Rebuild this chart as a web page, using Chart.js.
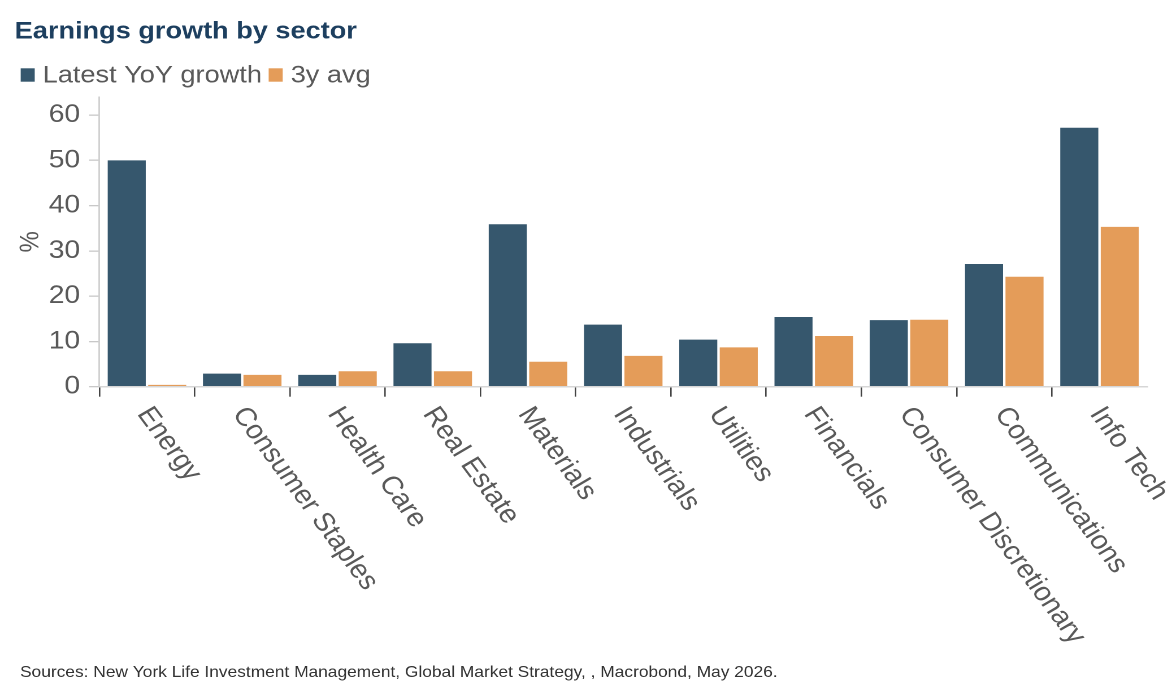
<!DOCTYPE html>
<html>
<head>
<meta charset="utf-8">
<style>
  html, body { margin: 0; padding: 0; background: #ffffff; }
</style>
<script src="https://cdn.jsdelivr.net/npm/chart.js@4.4.1/dist/chart.umd.min.js"></script>
</head>
<body>
<canvas id="c" width="1037" height="699" style="display:block;width:1172px;height:699px;"></canvas>
<script>
// ---- data ----
const categories = ['Energy', 'Consumer Staples', 'Health Care', 'Real Estate', 'Materials', 'Industrials', 'Utilities', 'Financials', 'Consumer Discretionary', 'Communications', 'Info Tech'];
const latestYoY = [50.0, 2.9, 2.6, 9.6, 35.9, 13.7, 10.4, 15.4, 14.7, 27.1, 57.2];
const avg3y = [0.4, 2.6, 3.4, 3.4, 5.5, 6.8, 8.7, 11.2, 14.8, 24.3, 35.3];
const seriesNames = ['Latest YoY growth', '3y avg'];
const yTickValues = [0, 10, 20, 30, 40, 50, 60];
const titleText = 'Earnings growth by sector';
const yAxisTitle = '%';
const sourceText = 'Sources: New York Life Investment Management, Global Market Strategy, , Macrobond, May 2026.';

// ---- styling ----
const FONT = "'Liberation Sans', Arial, Helvetica, sans-serif";
const BLUE = '#36576d';
const ORANGE = '#e49c59';
const TEXT_GREY = '#595959';
Chart.defaults.font.family = FONT;

const decor = {
  id: 'decor',
  afterDraw(chart) {
    const ctx = chart.ctx;
    const area = chart.chartArea;
    ctx.save();
    // legend
    ctx.font = '24px ' + FONT;
    ctx.textBaseline = 'alphabetic';
    ctx.textAlign = 'left';
    let x = 18.3;
    chart.data.datasets.forEach((ds) => {
      ctx.fillStyle = ds.backgroundColor;
      ctx.fillRect(x, 68.3, 12.4, 13.4);
      ctx.fillStyle = TEXT_GREY;
      const tx = x + 19.5;
      ctx.fillText(ds.label, tx, 82.5);
      x = tx + ctx.measureText(ds.label).width + 6;
    });
    // rotated category labels
    const xs = chart.scales.x;
    ctx.font = '25.9px ' + FONT;
    ctx.fillStyle = TEXT_GREY;
    ctx.textBaseline = 'top';
    ctx.textAlign = 'left';
    const ang = 56.5 * Math.PI / 180;
    chart.data.labels.forEach((lab, i) => {
      const px = xs.getPixelForValue(i);
      ctx.save();
      ctx.translate(px + 7.5, area.bottom + 16);
      ctx.rotate(ang);
      ctx.fillText(lab, 0, 0);
      ctx.restore();
    });
    // source footer
    ctx.font = '15.35px ' + FONT;
    ctx.fillStyle = '#333333';
    ctx.textBaseline = 'alphabetic';
    ctx.fillText(sourceText, 17.7, 677);
    ctx.restore();
  }
};

new Chart(document.getElementById('c'), {
  type: 'bar',
  data: {
    labels: categories,
    datasets: [
      { label: seriesNames[0], data: latestYoY, backgroundColor: BLUE, categoryPercentage: 0.85, barPercentage: 0.94 },
      { label: seriesNames[1], data: avg3y, backgroundColor: ORANGE, categoryPercentage: 0.85, barPercentage: 0.94 }
    ]
  },
  options: {
    responsive: false,
    animation: false,
    devicePixelRatio: 2,
    layout: { padding: { left: 13, right: 22, top: 0, bottom: 0 } },
    plugins: {
      legend: { display: false },
      tooltip: { enabled: false },
      title: {
        display: true,
        text: titleText,
        align: 'start',
        color: '#1d3f5f',
        font: { family: FONT, size: 24, weight: 'bold' },
        padding: { top: 17.3, bottom: 50.9 }
      }
    },
    scales: {
      x: {
        type: 'category',
        offset: true,
        grid: {
          offset: true,
          drawOnChartArea: false,
          drawTicks: true,
          tickLength: 10,
          lineWidth: 1.3,
          color: (c) => (c.type === 'tick' ? '#444444' : 'rgba(0,0,0,0)')
        },
        border: { color: '#d6d6d6', width: 1.5 },
        ticks: { display: false },
        afterFit: (s) => { s.height = 699 - 386.7; }
      },
      y: {
        min: 0,
        max: 64,
        afterBuildTicks: (s) => { s.ticks = yTickValues.map((v) => ({ value: v })); },
        ticks: { color: TEXT_GREY, padding: 8, font: { family: FONT, size: 25 } },
        grid: { drawOnChartArea: false, drawTicks: true, tickLength: 9, lineWidth: 1.3, color: '#c8c8c8' },
        border: { color: '#d0d0d0', width: 1.5 },
        title: { display: true, text: yAxisTitle, color: TEXT_GREY, font: { family: FONT, size: 24 }, padding: { top: 0, bottom: 0 } },
        afterFit: (s) => { s.width = 87.9 - 13; }
      }
    }
  },
  plugins: [decor]
});
</script>
</body>
</html>
